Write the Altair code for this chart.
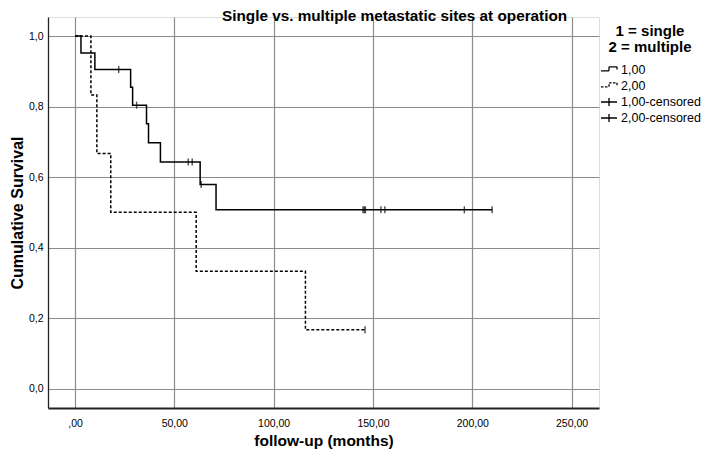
import altair as alt
import pandas as pd

# ---- data ----
single_time = [0, 3, 10, 28, 29, 36, 37, 43, 63, 71, 210]
single_surv = [1.0, 0.952, 0.905, 0.855, 0.804, 0.751, 0.697, 0.643, 0.579, 0.507, 0.507]
multi_time = [0, 8, 11, 18, 61, 116, 146]
multi_surv = [1.0, 0.833, 0.667, 0.5, 0.333, 0.167, 0.167]
single_cens_time = [22, 31, 57, 59, 63.5, 145.0, 145.6, 146.2, 154, 156, 196, 210]
single_cens_surv = [0.905, 0.804, 0.643, 0.643, 0.579, 0.507, 0.507, 0.507, 0.507, 0.507, 0.507, 0.507]
multi_cens_time = [146]
multi_cens_surv = [0.167]
legend_labels = ["1,00", "2,00", "1,00-censored", "2,00-censored"]
x_ticks = [0, 50, 100, 150, 200, 250]
y_ticks = [0, 0.2, 0.4, 0.6, 0.8, 1.0]

FONT = "Liberation Sans"

df_single = pd.DataFrame({"t": single_time, "s": single_surv})
df_multi = pd.DataFrame({"t": multi_time, "s": multi_surv})
df_cens = pd.DataFrame({
    "t": single_cens_time + multi_cens_time,
    "s": single_cens_surv + multi_cens_surv,
})
df_leg = pd.DataFrame({"label": legend_labels, "t": [-1000] * 4, "s": [0.5] * 4})

xscale = alt.Scale(domain=[-13.6, 263.8], nice=False, zero=False)
yscale = alt.Scale(domain=[-0.055, 1.054], nice=False, zero=False)

xaxis = alt.Axis(
    values=x_ticks, title="follow-up (months)", ticks=False, grid=True,
    labelExpr="datum.value == 0 ? ',00' : replace(format(datum.value, '.2f'), '.', ',')",
    labelFontSize=10.5, labelPadding=10, labelColor="#000", labelFont=FONT,
    titleFont=FONT, titleFontSize=15.5, titleFontWeight="bold", titleColor="#000",
    titleBaseline="bottom", titleY=40,
    domainColor="#222", domainWidth=2, gridColor="#8c8c8c", gridWidth=1.2,
)
yaxis = alt.Axis(
    values=y_ticks, title="Cumulative Survival", ticks=False, grid=True,
    labelExpr="replace(format(datum.value, '.1f'), '.', ',')",
    labelFontSize=10.5, labelPadding=5, labelColor="#000", labelFont=FONT,
    titleFont=FONT, titleFontSize=16, titleFontWeight="bold", titleColor="#000",
    titleX=-23, titleBaseline="bottom",
    domainColor="#222", domainWidth=1.3, gridColor="#8c8c8c", gridWidth=1.2,
)

line1 = alt.Chart(df_single).mark_line(
    interpolate="step-after", color="black", strokeWidth=1.5
).encode(x=alt.X("t:Q", scale=xscale, axis=xaxis), y=alt.Y("s:Q", scale=yscale, axis=yaxis))

line2 = alt.Chart(df_multi).mark_line(
    interpolate="step-after", color="black", strokeWidth=1.5, strokeDash=[3, 2]
).encode(x="t:Q", y="s:Q")

cens = alt.Chart(df_cens).mark_tick(
    orient="vertical", color="black", size=7, thickness=1.4
).encode(x="t:Q", y="s:Q")

step_path = "M-1,0.1H0V-0.4H1V-0.05"
cross_path = "M-1,0H1M0,-0.5V0.5"

leg_title = ["1 = single", "2 = multiple"]
leg = alt.Chart(df_leg).mark_point(
    filled=False, color="black", strokeWidth=1.3, clip=True, opacity=1
).encode(
    x="t:Q", y="s:Q",
    shape=alt.Shape(
        "label:N",
        scale=alt.Scale(domain=legend_labels, range=[step_path, step_path, cross_path, cross_path]),
        legend=alt.Legend(
            title=leg_title, orient="none", legendX=552, legendY=7,
            titleFont=FONT, titleFontSize=15, titleFontWeight="bold", titleColor="#000",
            titleAnchor="middle", titleAlign="center", titleLineHeight=16, titlePadding=6,
            labelFont=FONT, labelFontSize=12.5, labelColor="#000", labelOffset=3,
            symbolSize=256, symbolStrokeWidth=1.3, symbolStrokeColor="black",
            rowPadding=0, padding=0,
        ),
    ),
    strokeDash=alt.StrokeDash(
        "label:N",
        scale=alt.Scale(domain=legend_labels, range=[[1, 0], [2.5, 1.5], [1, 0], [1, 0]]),
        legend=alt.Legend(title=leg_title, orient="none", legendX=552, legendY=7),
    ),
)

chart = alt.layer(line1, line2, cens, leg).properties(
    width=551, height=391,
    title=alt.Title(
        "Single vs. multiple metastatic sites at operation", font=FONT, fontSize=15.3,
        fontWeight="bold", color="#000", anchor="start", frame="group", dx=174,
        offset=0, dy=7.5,
    ),
    autosize=alt.AutoSizeParams(type="none"),
    padding={"left": 40, "top": 9, "right": 102, "bottom": 41},
).configure_view(strokeWidth=0).configure(background="white")

chart.save("out.html", embed_options={"renderer": "svg", "actions": False})
